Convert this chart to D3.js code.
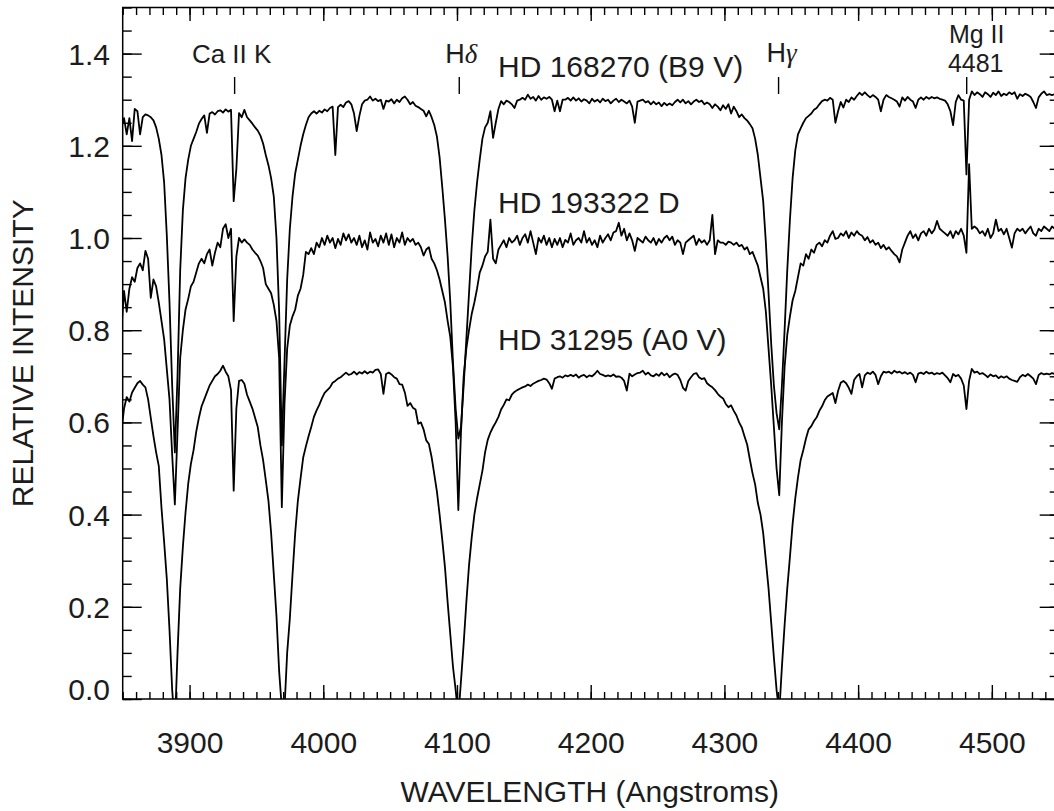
<!DOCTYPE html>
<html>
<head>
<meta charset="utf-8">
<script src="https://cdn.jsdelivr.net/npm/d3@7"></script>
<style>
  html, body { margin: 0; padding: 0; background: #fff; }
  svg { display: block; }
  text { font-family: "Liberation Sans", Arial, Helvetica, sans-serif; fill: #1c1c1c; }
</style>
</head>
<body>
<svg id="chart" width="1054" height="811"></svg>
<script>
// Spectra are sampled on a uniform wavelength grid (Angstroms)
const lambdaStart = 3849;
const lambdaStep = 2;

// HD 168270 (B9 V), offset upward
const fluxB9V = [
  1.24, 1.26, 1.225, 1.26, 1.21, 1.28, 1.275, 1.225, 1.262, 1.268,
  1.266, 1.262, 1.255, 1.24, 1.215, 1.18, 1.12, 1.005, 0.86, 0.68,
  0.535, 0.70, 0.93, 1.06, 1.13, 1.17, 1.20, 1.215, 1.23, 1.248,
  1.258, 1.266, 1.228, 1.27, 1.273, 1.268, 1.275, 1.277, 1.272, 1.279,
  1.274, 1.278, 1.08, 1.15, 1.271, 1.262, 1.278, 1.262, 1.255, 1.248,
  1.24, 1.233, 1.222, 1.205, 1.18, 1.158, 1.13, 1.09, 1.0, 0.84,
  0.55, 0.73, 0.91, 1.02, 1.09, 1.14, 1.17, 1.20, 1.225, 1.245,
  1.262, 1.27, 1.275, 1.27, 1.276, 1.272, 1.279, 1.275, 1.282, 1.285,
  1.18, 1.284, 1.289, 1.284, 1.294, 1.297, 1.29, 1.27, 1.232, 1.265,
  1.29, 1.298, 1.30, 1.307, 1.298, 1.302, 1.297, 1.30, 1.28, 1.298,
  1.296, 1.301, 1.292, 1.30, 1.295, 1.303, 1.307, 1.30, 1.29, 1.295,
  1.287, 1.284, 1.28, 1.276, 1.264, 1.276, 1.262, 1.245, 1.22, 1.175,
  1.11, 1.04, 0.96, 0.86, 0.73, 0.63, 0.565, 0.59, 0.68, 0.78,
  0.88, 0.98, 1.06, 1.12, 1.17, 1.215, 1.24, 1.25, 1.275, 1.217,
  1.25, 1.28, 1.297, 1.29, 1.298, 1.295, 1.29, 1.282, 1.298, 1.30,
  1.304, 1.30, 1.311, 1.302, 1.306, 1.298, 1.308, 1.30, 1.305, 1.302,
  1.306, 1.30, 1.275, 1.298, 1.275, 1.30, 1.30, 1.304, 1.298, 1.305,
  1.298, 1.303, 1.296, 1.301, 1.298, 1.292, 1.302, 1.296, 1.30, 1.294,
  1.302, 1.297, 1.30, 1.292, 1.298, 1.302, 1.295, 1.30, 1.296, 1.292,
  1.298, 1.285, 1.25, 1.296, 1.298, 1.30, 1.294, 1.297, 1.29, 1.296,
  1.29, 1.294, 1.286, 1.293, 1.288, 1.292, 1.288, 1.295, 1.30, 1.294,
  1.30, 1.292, 1.297, 1.29, 1.296, 1.30, 1.295, 1.298, 1.29, 1.294,
  1.29, 1.282, 1.29, 1.285, 1.277, 1.288, 1.28, 1.29, 1.27, 1.285,
  1.275, 1.262, 1.268, 1.26, 1.255, 1.247, 1.238, 1.215, 1.18, 1.13,
  1.08, 0.99, 0.88, 0.77, 0.68, 0.62, 0.585, 0.68, 0.80, 0.93,
  1.04, 1.13, 1.19, 1.225, 1.238, 1.25, 1.26, 1.265, 1.27, 1.278,
  1.282, 1.29, 1.297, 1.30, 1.298, 1.304, 1.30, 1.25, 1.275, 1.295,
  1.283, 1.30, 1.295, 1.305, 1.30, 1.308, 1.315, 1.31, 1.316, 1.31,
  1.305, 1.31, 1.306, 1.30, 1.275, 1.30, 1.31, 1.306, 1.303, 1.30,
  1.296, 1.285, 1.305, 1.298, 1.306, 1.30, 1.296, 1.282, 1.30, 1.305,
  1.30, 1.306, 1.302, 1.306, 1.303, 1.305, 1.302, 1.30, 1.298, 1.29,
  1.275, 1.245, 1.295, 1.31, 1.30, 1.298, 1.138, 1.30, 1.318, 1.31,
  1.316, 1.312, 1.306, 1.316, 1.312, 1.306, 1.315, 1.31, 1.318, 1.308,
  1.313, 1.31, 1.316, 1.312, 1.316, 1.302, 1.312, 1.308, 1.313, 1.31,
  1.306, 1.295, 1.282, 1.305, 1.313, 1.318, 1.31, 1.312, 1.31, 1.312,
  1.31
];

// HD 193322 D
const fluxHD193322D = [
  0.80, 0.885, 0.84, 0.89, 0.915, 0.905, 0.935, 0.945, 0.93, 0.972,
  0.955, 0.87, 0.91, 0.895, 0.86, 0.82, 0.78, 0.715, 0.65, 0.53,
  0.422, 0.58, 0.74, 0.80, 0.845, 0.868, 0.895, 0.905, 0.925, 0.945,
  0.955, 0.945, 0.965, 0.975, 0.94, 0.968, 0.99, 0.98, 1.02, 1.03,
  1.0, 1.02, 0.82, 0.96, 1.0, 0.99, 0.997, 0.99, 0.985, 0.975,
  0.968, 0.962, 0.95, 0.935, 0.90, 0.89, 0.88, 0.855, 0.82, 0.74,
  0.416, 0.64, 0.76, 0.81, 0.83, 0.845, 0.875, 0.89, 0.92, 0.97,
  0.965, 0.978, 0.965, 0.99, 0.98, 1.0, 0.985, 1.005, 0.99, 1.0,
  0.978, 0.998, 0.985, 1.01, 0.995, 1.008, 0.99, 1.0, 0.985, 1.005,
  0.98, 0.995, 0.975, 1.012, 0.99, 0.998, 0.982, 1.005, 0.99, 1.01,
  0.985, 1.008, 0.98, 1.0, 0.99, 1.012, 0.985, 1.0, 0.992, 0.998,
  0.985, 0.99, 0.98, 0.962, 0.975, 0.98, 0.955, 0.945, 0.93, 0.91,
  0.885, 0.86, 0.82, 0.785, 0.72, 0.60, 0.41, 0.58, 0.70, 0.76,
  0.80, 0.835, 0.86, 0.89, 0.925, 0.94, 0.96, 0.97, 1.04, 0.955,
  0.945, 0.975, 0.985, 0.995, 0.98, 1.0, 0.99, 0.995, 1.005, 0.985,
  1.0, 1.008, 0.99, 1.015, 0.99, 0.965, 1.0, 0.99, 1.005, 0.985,
  1.0, 0.98, 0.998, 0.985, 1.0, 0.98, 0.996, 0.99, 1.01, 0.985,
  0.995, 1.0, 0.99, 1.015, 0.99, 1.0, 0.985, 0.995, 0.98, 1.005,
  0.99, 1.0, 1.008, 0.995, 1.012, 1.015, 1.033, 1.005, 1.02, 0.995,
  1.01, 0.995, 0.972, 1.0, 0.995, 0.99, 1.003, 0.995, 0.99, 1.0,
  0.985, 0.998, 0.99, 1.0, 1.005, 0.995, 1.003, 0.985, 0.995, 0.99,
  0.965, 0.99, 0.995, 1.0, 1.005, 0.985, 0.998, 0.99, 0.995, 0.985,
  0.995, 1.05, 0.965, 0.995, 0.99, 0.99, 0.985, 0.992, 0.99, 0.985,
  0.99, 0.982, 0.985, 0.975, 0.98, 0.965, 0.97, 0.955, 0.94, 0.915,
  0.89, 0.84, 0.76, 0.68, 0.59, 0.50, 0.442, 0.60, 0.72, 0.79,
  0.83, 0.865, 0.885, 0.915, 0.945, 0.94, 0.965, 0.955, 0.975, 0.968,
  0.985, 0.99, 0.982, 0.995, 0.99, 1.005, 1.015, 0.998, 1.0, 1.01,
  1.005, 1.015, 1.0, 1.012, 1.005, 1.015, 1.008, 1.005, 0.995, 1.002,
  0.99, 0.995, 0.985, 0.99, 0.978, 0.985, 0.975, 0.98, 0.972, 0.965,
  0.96, 0.947, 0.975, 0.99, 1.005, 1.015, 1.0, 1.008, 0.995, 1.01,
  1.015, 1.005, 1.02, 1.01, 1.018, 1.037, 1.02, 1.015, 1.01, 1.005,
  1.015, 1.0, 1.015, 1.008, 1.02, 1.005, 0.968, 1.16, 1.02, 1.025,
  1.02, 1.01, 1.015, 1.005, 1.02, 1.0, 1.01, 1.04, 1.015, 1.02,
  1.008, 1.02, 1.0, 0.979, 1.01, 1.02, 1.015, 1.02, 1.01, 1.018,
  1.025, 1.01, 1.005, 1.02, 1.015, 1.025, 1.02, 1.015, 1.025, 1.02,
  1.02
];

// HD 31295 (A0 V), offset downward
const fluxA0V = [
  0.58, 0.63, 0.655, 0.645, 0.665, 0.675, 0.685, 0.69, 0.682, 0.676,
  0.65, 0.61, 0.57, 0.535, 0.505, 0.415, 0.34, 0.26, 0.15, 0.02,
  -0.06, 0.10, 0.24, 0.33, 0.405, 0.467, 0.51, 0.54, 0.58, 0.61,
  0.635, 0.65, 0.665, 0.68, 0.69, 0.70, 0.705, 0.712, 0.723, 0.71,
  0.70, 0.67, 0.452, 0.63, 0.69, 0.692, 0.684, 0.66, 0.645, 0.63,
  0.61, 0.59, 0.55, 0.518, 0.475, 0.43, 0.36, 0.27, 0.18, 0.06,
  -0.02, -0.02, 0.10, 0.175, 0.27, 0.36, 0.43, 0.478, 0.524, 0.548,
  0.57, 0.59, 0.612, 0.626, 0.638, 0.652, 0.664, 0.67, 0.676, 0.686,
  0.69, 0.695, 0.698, 0.703, 0.708, 0.703, 0.705, 0.71, 0.704, 0.709,
  0.706, 0.711, 0.706, 0.71, 0.708, 0.714, 0.715, 0.705, 0.662, 0.705,
  0.708, 0.704, 0.698, 0.695, 0.683, 0.682, 0.665, 0.636, 0.642, 0.632,
  0.628, 0.597, 0.60, 0.585, 0.561, 0.553, 0.525, 0.488, 0.45, 0.40,
  0.345, 0.286, 0.21, 0.14, 0.07, 0.02, -0.04, 0.04, 0.12, 0.21,
  0.29, 0.35, 0.40, 0.435, 0.465, 0.495, 0.535, 0.562, 0.578, 0.59,
  0.60, 0.612, 0.628, 0.638, 0.65, 0.648, 0.66, 0.666, 0.67, 0.673,
  0.676, 0.678, 0.682, 0.679, 0.684, 0.687, 0.69, 0.692, 0.695, 0.693,
  0.685, 0.673, 0.695, 0.698, 0.70, 0.697, 0.702, 0.70, 0.703, 0.70,
  0.704, 0.697, 0.701, 0.703, 0.698, 0.702, 0.70, 0.705, 0.712, 0.705,
  0.703, 0.70, 0.702, 0.70, 0.704, 0.699, 0.70, 0.697, 0.69, 0.669,
  0.706, 0.70, 0.704, 0.707, 0.708, 0.712, 0.704, 0.708, 0.702, 0.70,
  0.705, 0.701, 0.708, 0.702, 0.706, 0.698, 0.703, 0.706, 0.703, 0.692,
  0.675, 0.669, 0.69, 0.698, 0.705, 0.707, 0.698, 0.694, 0.696, 0.685,
  0.68, 0.676, 0.67, 0.662, 0.656, 0.652, 0.64, 0.633, 0.637, 0.625,
  0.615, 0.60, 0.589, 0.57, 0.552, 0.52, 0.49, 0.465, 0.425, 0.40,
  0.36, 0.30, 0.24, 0.165, 0.09, 0.02, -0.03, 0.07, 0.16, 0.24,
  0.308, 0.38, 0.435, 0.48, 0.518, 0.54, 0.565, 0.585, 0.592, 0.603,
  0.611, 0.625, 0.635, 0.648, 0.656, 0.66, 0.664, 0.642, 0.668, 0.686,
  0.69, 0.685, 0.675, 0.662, 0.692, 0.70, 0.705, 0.676, 0.702, 0.708,
  0.705, 0.71, 0.703, 0.683, 0.70, 0.71, 0.708, 0.71, 0.706, 0.712,
  0.708, 0.71, 0.706, 0.709, 0.705, 0.708, 0.703, 0.687, 0.706, 0.708,
  0.705, 0.71, 0.706, 0.708, 0.704, 0.707, 0.705, 0.708, 0.702, 0.696,
  0.687, 0.705, 0.70, 0.703, 0.695, 0.68, 0.629, 0.69, 0.716, 0.708,
  0.71, 0.705, 0.707, 0.703, 0.698, 0.704, 0.70, 0.702, 0.696, 0.70,
  0.697, 0.70, 0.695, 0.692, 0.69, 0.688, 0.698, 0.703, 0.70, 0.705,
  0.70, 0.695, 0.683, 0.703, 0.707, 0.704, 0.706, 0.704, 0.707, 0.705,
  0.703
];

// Axis tick values and labels
const xTickValues = [3900, 4000, 4100, 4200, 4300, 4400, 4500];
const yTickValues = [0.0, 0.2, 0.4, 0.6, 0.8, 1.0, 1.2, 1.4];
const yTickLabels = ["0.0", "0.2", "0.4", "0.6", "0.8", "1.0", "1.2", "1.4"];

// Star names and the identified lines
const starNames = ["HD 168270 (B9 V)", "HD 193322 D", "HD 31295 (A0 V)"];
const lineWaves = [3933.7, 4101.7, 4340.5, 4481.2];

// ---------------------------------------------------------------------------
const W = 1054, H = 811;
const frame = { left: 122.7, right: 1058.7, top: 7.5, bottom: 699 };

const svg = d3.select("#chart");
svg.append("rect").attr("width", W).attr("height", H).attr("fill", "#fff");

const x = d3.scaleLinear().domain([3850, 4550]).range([frame.left, frame.right]);
const y = d3.scaleLinear().domain([0, 1.5]).range([frame.bottom, frame.top]);

svg.append("defs").append("clipPath").attr("id", "plotClip")
  .append("rect")
  .attr("x", frame.left).attr("y", frame.top)
  .attr("width", frame.right - frame.left)
  .attr("height", frame.bottom - frame.top);

// spectra
const line = d3.line()
  .x((d, i) => x(lambdaStart + i * lambdaStep))
  .y(d => y(d));

svg.append("g").attr("clip-path", "url(#plotClip)")
  .selectAll("path")
  .data([fluxB9V, fluxHD193322D, fluxA0V])
  .join("path")
  .attr("d", line)
  .attr("fill", "none")
  .attr("stroke", "#000")
  .attr("stroke-width", 1.8)
  .attr("stroke-linejoin", "round");

// axes: inward ticks on all four sides
const xMinor = d3.range(3850, 4551, 10);
const yMinor = d3.range(0, 31).map(i => i * 0.05);
const fontSize = 30;

function styleAxis(g) {
  g.select(".domain").remove();
  g.selectAll(".tick line").attr("stroke", "#000").attr("stroke-width", 1.4);
  g.selectAll(".tick text")
    .attr("font-size", fontSize)
    .attr("font-family", '"Liberation Sans", Arial, Helvetica, sans-serif')
    .attr("fill", "#1c1c1c");
}

// bottom
svg.append("g").attr("transform", `translate(0,${frame.bottom})`)
  .call(d3.axisBottom(x).tickValues(xMinor).tickSize(-7).tickFormat(""))
  .call(styleAxis);
svg.append("g").attr("transform", `translate(0,${frame.bottom})`)
  .call(d3.axisBottom(x).tickValues(xTickValues).tickSize(-14).tickPadding(32.7).tickFormat(d3.format("d")))
  .call(styleAxis);
// top
svg.append("g").attr("transform", `translate(0,${frame.top})`)
  .call(d3.axisTop(x).tickValues(xMinor).tickSize(-7.5).tickFormat(""))
  .call(styleAxis);
svg.append("g").attr("transform", `translate(0,${frame.top})`)
  .call(d3.axisTop(x).tickValues(xTickValues).tickSize(-13.5).tickFormat(""))
  .call(styleAxis);
// left
svg.append("g").attr("transform", `translate(${frame.left},0)`)
  .call(d3.axisLeft(y).tickValues(yMinor).tickSize(-9).tickFormat(""))
  .call(styleAxis);
const yAxisMajor = svg.append("g").attr("transform", `translate(${frame.left},0)`)
  .call(d3.axisLeft(y).tickValues(yTickValues).tickSize(-19).tickPadding(12.7)
    .tickFormat((d, i) => yTickLabels[i]))
  .call(styleAxis);
yAxisMajor.selectAll(".tick text").attr("dy", "0.35em");
// the lowest label sits a little above its tick so it clears the corner
yAxisMajor.selectAll(".tick").filter(d => d === 0).select("text").attr("y", -10);
// right
svg.append("g").attr("transform", `translate(${frame.right},0)`)
  .call(d3.axisRight(y).tickValues(yMinor).tickSize(-9).tickFormat(""))
  .call(styleAxis);
svg.append("g").attr("transform", `translate(${frame.right},0)`)
  .call(d3.axisRight(y).tickValues(yTickValues).tickSize(-19).tickFormat(""))
  .call(styleAxis);

// frame
svg.append("rect")
  .attr("x", frame.left).attr("y", frame.top)
  .attr("width", frame.right - frame.left)
  .attr("height", frame.bottom - frame.top)
  .attr("fill", "none").attr("stroke", "#000").attr("stroke-width", 1.5);

// axis titles
svg.append("text")
  .attr("x", (frame.left + frame.right) / 2 - 1)
  .attr("y", 801.5)
  .attr("text-anchor", "middle")
  .attr("font-size", fontSize)
  .text("WAVELENGTH (Angstroms)");

svg.append("text")
  .attr("transform", `translate(33,${(frame.top + frame.bottom) / 2}) rotate(-90)`)
  .attr("text-anchor", "middle")
  .attr("font-size", fontSize)
  .text("RELATIVE INTENSITY");

// star names
const nameY = [76.7, 213.3, 350];
svg.append("g").selectAll("text")
  .data(starNames)
  .join("text")
  .attr("x", 498)
  .attr("y", (d, i) => nameY[i])
  .attr("font-size", fontSize)
  .text(d => d);

// line identifications with short marker ticks
const markG = svg.append("g");
markG.selectAll("line")
  .data(lineWaves)
  .join("line")
  .attr("x1", d => x(d)).attr("x2", d => x(d))
  .attr("y1", 77).attr("y2", 94)
  .attr("stroke", "#000").attr("stroke-width", 1.4);

const idSize = 26;
markG.append("text")
  .attr("x", x(lineWaves[0]) - 3).attr("y", 62.5)
  .attr("text-anchor", "middle").attr("font-size", idSize)
  .text("Ca II K");

const hd = markG.append("text")
  .attr("x", x(lineWaves[1]) + 2).attr("y", 63)
  .attr("text-anchor", "middle").attr("font-size", idSize + 1);
hd.append("tspan").text("H");
hd.append("tspan").attr("font-style", "italic").attr("font-family", '"Liberation Serif", "DejaVu Serif", serif').text("δ");

const hg = markG.append("text")
  .attr("x", x(lineWaves[2]) + 3).attr("y", 62)
  .attr("text-anchor", "middle").attr("font-size", idSize + 1);
hg.append("tspan").text("H");
hg.append("tspan").attr("font-style", "italic").attr("font-family", '"Liberation Serif", "DejaVu Serif", serif').text("γ");

// two-line Mg II label, stacked with a small gap
markG.append("text")
  .attr("x", x(lineWaves[3]) + 10).attr("y", 43)
  .attr("text-anchor", "middle").attr("font-size", idSize - 1)
  .text("Mg II");
markG.append("text")
  .attr("x", x(lineWaves[3]) + 9).attr("y", 71.5)
  .attr("text-anchor", "middle").attr("font-size", idSize - 1)
  .text("4481");
</script>
</body>
</html>
